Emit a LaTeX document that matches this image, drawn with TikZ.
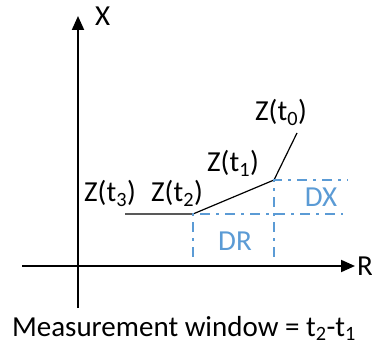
\documentclass[tikz,border=0pt]{standalone}
\usepackage{fontspec}
\setmainfont{Carlito}
\usetikzlibrary{arrows.meta}
\definecolor{blu}{RGB}{91,155,213}
\begin{document}
\begin{tikzpicture}[x=1pt,y=-1pt,
  lbl/.style={font=\fontsize{29}{32}\selectfont,inner sep=0pt,anchor=base},
  blbl/.style={lbl,text=blu},
  axis/.style={line width=2pt,-{Triangle[length=14pt,width=12pt]}},
  curve/.style={line width=1.2pt},
  guide/.style={blu,line width=2.5pt,dash pattern=on 10pt off 6pt on 3pt off 6pt}]
\useasboundingbox (0,0) rectangle (372,347);
% axes
\coordinate (yb) at (78,308);
\coordinate (yt) at (78,16);
\coordinate (xl) at (22,266);
\coordinate (xr) at (355,266);
\draw[axis] (yb) -- (yt);
\draw[axis] (xl) -- (xr);
\node[lbl,anchor=base west] (X) at (95,26) {X};
\node[lbl,anchor=base west] (R) at (357,276) {R};
% curve
\coordinate (p3) at (125,214);
\coordinate (p2) at (193,214);
\coordinate (p1) at (274,180);
\coordinate (p0) at (297,133);
\draw[curve] (p3) -- (p2) -- (p1) -- (p0);
% guides
\coordinate (a1) at (193,257);
\coordinate (a2) at (343,214);
\coordinate (b1) at (274,257);
\coordinate (b2) at (348,180);
\draw[guide] (a1) -- (p2) -- (a2);
\draw[guide] (b1) -- (p1) -- (b2);
% labels
\node[lbl] (z0) at (281,121) {Z(t\textsubscript{0})};
\node[lbl] (z1) at (233,172) {Z(t\textsubscript{1})};
\node[lbl] (z2) at (177,202) {Z(t\textsubscript{2})};
\node[lbl] (z3) at (110,202) {Z(t\textsubscript{3})};
\node[blbl] (dx) at (321,207) {DX};
\node[blbl] (dr) at (235,251) {DR};
\node[lbl] (mw) at (184,336) {Measurement window = t\textsubscript{2}-t\textsubscript{1}};
\end{tikzpicture}
\end{document}
